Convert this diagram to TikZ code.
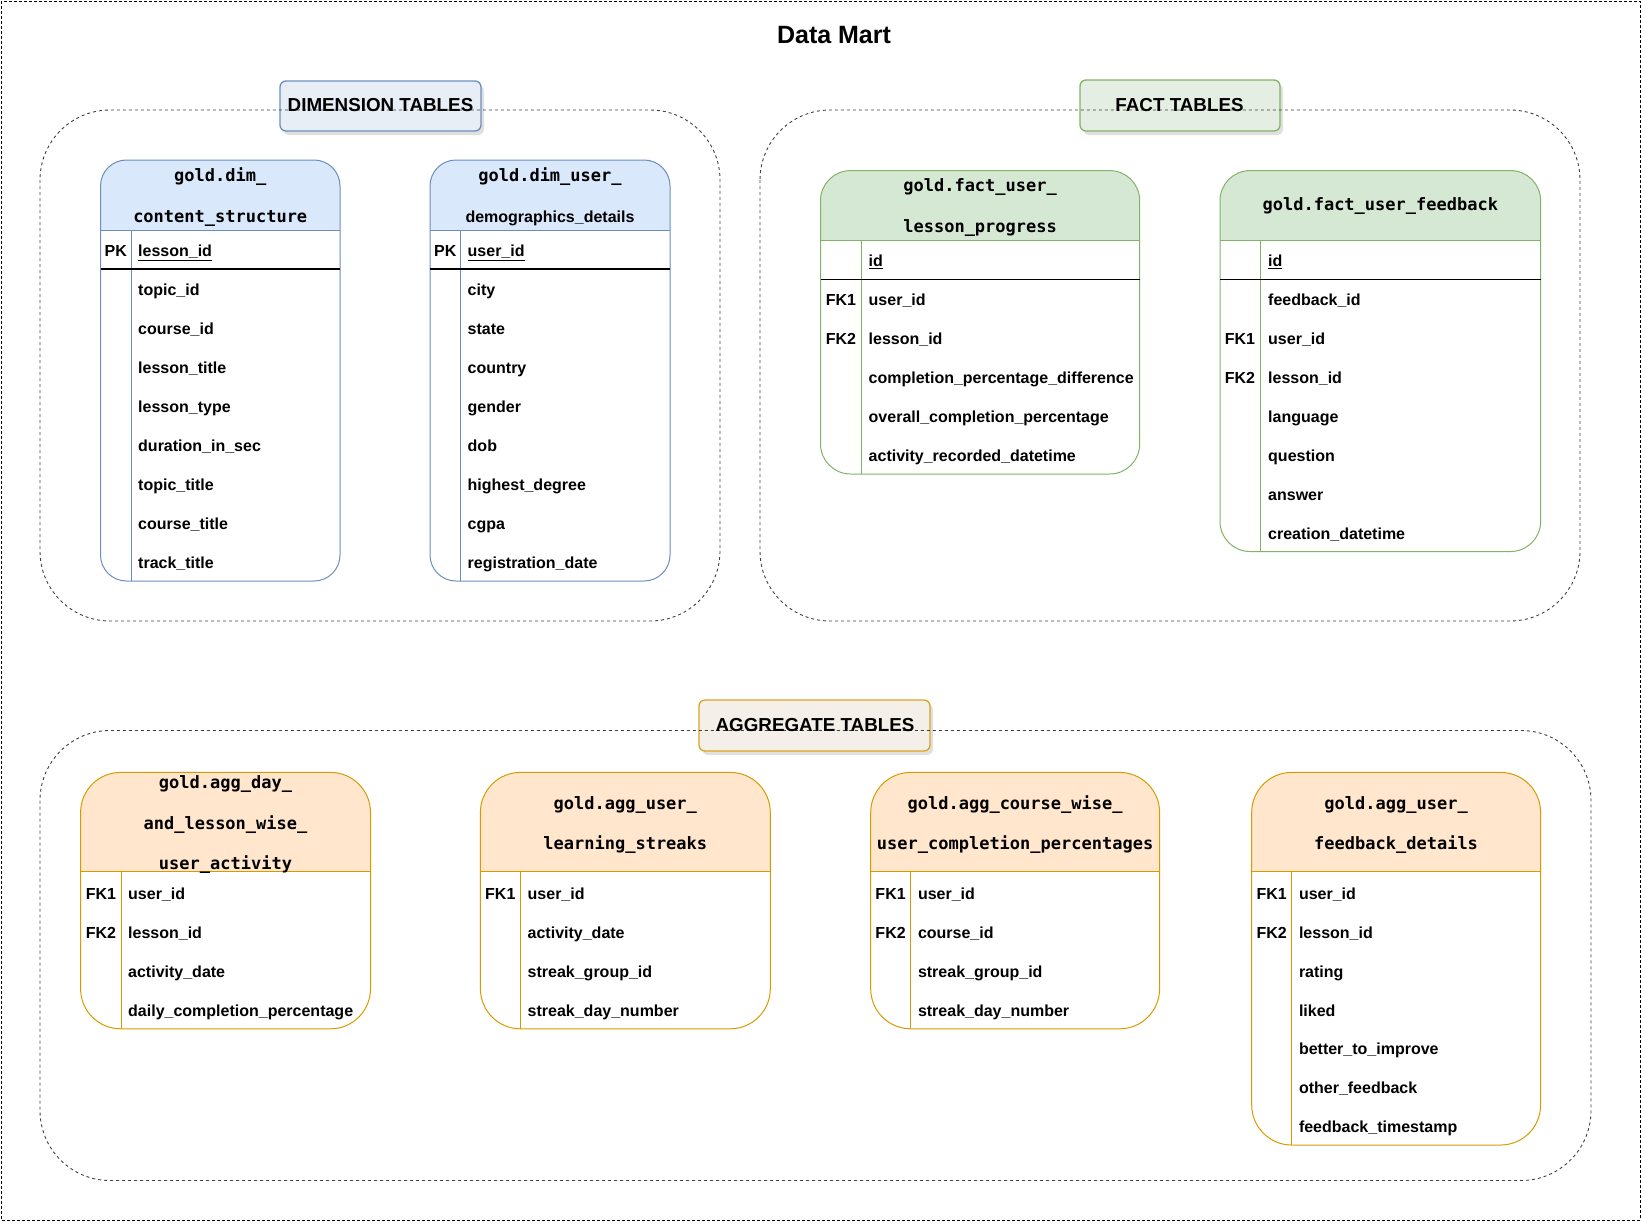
\documentclass[tikz,border=0pt]{standalone}
\usepackage{fontspec}
\setmainfont{Liberation Sans}
\newfontfamily\hdmono{DejaVu Sans Mono}
\definecolor{dimfill}{HTML}{DAE8FC}
\definecolor{dimline}{HTML}{6C8EBF}
\definecolor{factfill}{HTML}{D5E8D4}
\definecolor{factline}{HTML}{82B366}
\definecolor{aggfill}{HTML}{FFE6CC}
\definecolor{aggline}{HTML}{D79B00}
\definecolor{dimlblfill}{HTML}{E8EEF6}
\definecolor{factlblfill}{HTML}{E4EEE2}
\definecolor{agglblfill}{HTML}{F4EFE8}
\definecolor{agglblline}{HTML}{D9A520}
\newcommand\fieldfont{\fontsize{16}{19}\selectfont\bfseries}
\newcommand\hdrfont{\hdmono\fontsize{17}{20}\selectfont\bfseries}
\newcommand\lblfont{\fontsize{18.8}{22}\selectfont\bfseries}
% table outline: x1 y1 x2 y2 headerbottom divider fill stroke radius
\newcommand\dbtab[9]{%
  \begin{scope}
    \clip (#1,#2) rectangle (#3,#5);
    \fill[#7, rounded corners=#9] (#1,#2) rectangle (#3,#4);
  \end{scope}
  \draw[#8, line width=1pt, rounded corners=#9] (#1,#2) rectangle (#3,#4);
  \draw[#8, line width=1pt] (#1,#5) -- (#3,#5) (#6,#5) -- (#6,#4);
}
\newcommand\lblbox[6]{%
  \fill[black, opacity=0.12, rounded corners=6pt] ($(#1,#2)+(3,4)$) rectangle ($(#3,#4)+(3,4)$);
  \fill[#5, rounded corners=6pt] (#1,#2) rectangle (#3,#4);
  \draw[#6, line width=1.3pt, rounded corners=6pt] (#1,#2) rectangle (#3,#4);
}
\usetikzlibrary{calc}
\tikzset{
  field/.style={font=\fieldfont, anchor=mid west, inner sep=0pt, yshift=-4pt},
  keycol/.style={font=\fieldfont, anchor=mid, inner sep=0pt, yshift=-4pt},
  hdr/.style={font=\hdrfont, anchor=mid, inner sep=0pt, yshift=-4pt},
  hdrsans/.style={font=\fieldfont, anchor=mid, inner sep=0pt, yshift=-4pt},
  lbltext/.style={font=\lblfont, anchor=center, inner sep=0pt},
  groupbox/.style={draw=black!75, line width=0.9pt, dash pattern=on 3pt off 3pt, rounded corners=70pt},
  outerbox/.style={draw=black, line width=0.8pt, dash pattern=on 3pt off 2pt},
  pkline/.style={draw=black, line width=1.1pt},
}
\begin{document}
\begin{tikzpicture}[x=1pt,y=-1pt]
\useasboundingbox (0,0) rectangle (1641,1221);
\draw[outerbox] (1,1) rectangle (1640,1220);
\node[font=\fontsize{25}{30}\selectfont\bfseries, inner sep=0pt] (title) at (834,35) {Data Mart};

% label boxes (fill) drawn below group borders
\lblbox{280}{81}{481}{131}{dimlblfill}{dimline}
\lblbox{1080}{80}{1280}{131}{factlblfill}{factline}
\lblbox{699}{700}{930}{751}{agglblfill}{agglblline}

% group boxes
\draw[groupbox] (40,110) rectangle (720,621);
\draw[groupbox] (760,110) rectangle (1580,621);
\draw[groupbox] (40,730.5) rectangle (1591,1180.5);

\node[lbltext] (dimlbl) at (380.5,105) {DIMENSION TABLES};
\node[lbltext] (factlbl) at (1179.5,105) {FACT TABLES};
\node[lbltext] (agglbl) at (815,725) {AGGREGATE TABLES};

% ---------- dimension tables ----------
\dbtab{100.5}{160}{340}{581}{230}{131}{dimfill}{dimline}{26pt}
\draw[pkline] (100.5,269) -- (340,269);
\node[hdr] (d1h1) at (220.25,175) {gold.dim\_};
\node[hdr] (d1h2) at (220.25,216) {content\_structure};
\node[keycol] (d1k) at (115.75,250.1) {PK};
\node[field] (d1pk) at (138,250.1) {\underline{lesson\_id}};
\foreach \t [count=\i] in {topic\_id,course\_id,lesson\_title,lesson\_type,duration\_in\_sec,topic\_title,course\_title,track\_title}
  \node[field] (d1f\i) at (138,{288.9+39*(\i-1)}) {\t};

\dbtab{430}{160}{670}{581}{230}{460.5}{dimfill}{dimline}{26pt}
\draw[pkline] (430,269) -- (670,269);
\node[hdr] (d2h1) at (550,175) {gold.dim\_user\_};
\node[hdrsans] (d2h2) at (550,216) {demographics\_details};
\node[keycol] (d2k) at (445.25,250.1) {PK};
\node[field] (d2pk) at (467.5,250.1) {\underline{user\_id}};
\foreach \t [count=\i] in {city,state,country,gender,dob,highest\_degree,cgpa,registration\_date}
  \node[field] (d2f\i) at (467.5,{288.9+39*(\i-1)}) {\t};

% ---------- fact tables ----------
\dbtab{820.5}{170.6}{1139.7}{474}{240.7}{861.3}{factfill}{factline}{30pt}
\draw[pkline] (820.5,279.4) -- (1139.7,279.4);
\node[hdr] (f1h1) at (980.1,185) {gold.fact\_user\_};
\node[hdr] (f1h2) at (980.1,226) {lesson\_progress};
\node[field] (f1pk) at (868.5,259.5) {\underline{id}};
\node[keycol] (f1k1) at (840.9,299.3) {FK1};
\node[keycol] (f1k2) at (840.9,338.3) {FK2};
\foreach \t [count=\i] in {user\_id,lesson\_id,completion\_percentage\_difference,overall\_completion\_percentage,activity\_recorded\_datetime}
  \node[field] (f1f\i) at (868.5,{299.3+39*(\i-1)}) {\t};

\dbtab{1220}{170.6}{1540.6}{551.5}{240.7}{1260}{factfill}{factline}{30pt}
\draw[pkline] (1220,279.4) -- (1540.6,279.4);
\node[hdr] (f2h1) at (1380.3,204) {gold.fact\_user\_feedback};
\node[field] (f2pk) at (1268,259.5) {\underline{id}};
\node[keycol] (f2k1) at (1240,338.3) {FK1};
\node[keycol] (f2k2) at (1240,377.3) {FK2};
\foreach \t [count=\i] in {feedback\_id,user\_id,lesson\_id,language,question,answer,creation\_datetime}
  \node[field] (f2f\i) at (1268,{299.3+39*(\i-1)}) {\t};

% ---------- aggregate tables ----------
\dbtab{80.6}{772.4}{370.5}{1028.8}{871.8}{121.4}{aggfill}{aggline}{40pt}
\node[hdr] (a1h1) at (225.5,781.8) {gold.agg\_day\_};
\node[hdr] (a1h2) at (225.5,822.6) {and\_lesson\_wise\_};
\node[hdr] (a1h3) at (225.5,862.4) {user\_activity};
\node[keycol] (a1k1) at (101,892.7) {FK1};
\node[keycol] (a1k2) at (101,931.6) {FK2};
\foreach \t [count=\i] in {user\_id,lesson\_id,activity\_date,daily\_completion\_percentage}
  \node[field] (a1f\i) at (128,{892.7+38.9*(\i-1)}) {\t};

\dbtab{480.4}{772.4}{770.3}{1028.8}{871.8}{520.2}{aggfill}{aggline}{40pt}
\node[hdr] (a2h1) at (625.3,802.7) {gold.agg\_user\_};
\node[hdr] (a2h2) at (625.3,842.5) {learning\_streaks};
\node[keycol] (a2k1) at (500.3,892.7) {FK1};
\foreach \t [count=\i] in {user\_id,activity\_date,streak\_group\_id,streak\_day\_number}
  \node[field] (a2f\i) at (527.5,{892.7+38.9*(\i-1)}) {\t};

\dbtab{870.7}{772.4}{1159.6}{1028.8}{871.8}{910.5}{aggfill}{aggline}{40pt}
\node[hdr] (a3h1) at (1015.1,802.7) {gold.agg\_course\_wise\_};
\node[hdr] (a3h2) at (1015.1,842.5) {user\_completion\_percentages};
\node[keycol] (a3k1) at (890.6,892.7) {FK1};
\node[keycol] (a3k2) at (890.6,931.6) {FK2};
\foreach \t [count=\i] in {user\_id,course\_id,streak\_group\_id,streak\_day\_number}
  \node[field] (a3f\i) at (917.8,{892.7+38.9*(\i-1)}) {\t};

\dbtab{1251.7}{772.4}{1540.6}{1145}{871.8}{1291.5}{aggfill}{aggline}{40pt}
\node[hdr] (a4h1) at (1396.1,802.7) {gold.agg\_user\_};
\node[hdr] (a4h2) at (1396.1,842.5) {feedback\_details};
\node[keycol] (a4k1) at (1271.6,892.7) {FK1};
\node[keycol] (a4k2) at (1271.6,931.6) {FK2};
\foreach \t [count=\i] in {user\_id,lesson\_id,rating,liked,better\_to\_improve,other\_feedback,feedback\_timestamp}
  \node[field] (a4f\i) at (1298.8,{892.7+38.9*(\i-1)}) {\t};
\end{tikzpicture}
\end{document}
